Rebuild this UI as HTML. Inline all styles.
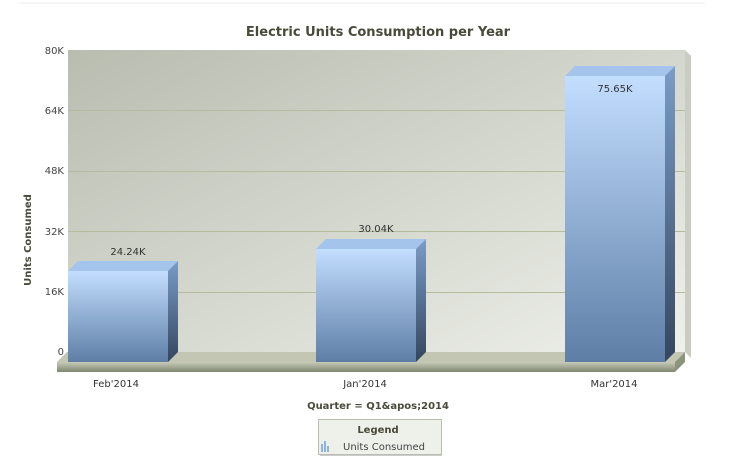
<!DOCTYPE html>
<html><head><style>
body{margin:0;background:#fff;}
svg text{font-family:"DejaVu Sans",Verdana,sans-serif;}
</style></head><body>
<svg width="741" height="469" xmlns="http://www.w3.org/2000/svg">
<defs>
<linearGradient id="wall" x1="0" y1="0" x2="1" y2="1">
<stop offset="0" stop-color="#b9bdb0"/><stop offset="1" stop-color="#eef0ea"/></linearGradient>
<linearGradient id="bar" x1="0" y1="0" x2="0" y2="1">
<stop offset="0" stop-color="#c3deff"/><stop offset="1" stop-color="#5e7ea6"/></linearGradient>
<linearGradient id="side" x1="0" y1="0" x2="0" y2="1">
<stop offset="0" stop-color="#7a9cc8"/><stop offset="1" stop-color="#34465e"/></linearGradient>
<linearGradient id="floor" x1="0" y1="0" x2="0" y2="1">
<stop offset="0" stop-color="#c7cbb8"/><stop offset="1" stop-color="#7f8770"/></linearGradient>
</defs>
<line x1="20" y1="3" x2="705" y2="3" stroke="#eee"/>
<text x="378" y="36" text-anchor="middle" font-size="13" font-weight="bold" fill="#4a4a3a">Electric Units Consumption per Year</text>
<rect x="68" y="50" width="617" height="302" fill="url(#wall)"/>
<polygon points="685,50 691,56 691,358 685,352" fill="#c9ccc0"/>
<g stroke="#b4bc9e" stroke-width="1">
<line x1="68" y1="110.5" x2="685" y2="110.5"/><line x1="68" y1="171.5" x2="685" y2="171.5"/>
<line x1="68" y1="231.5" x2="685" y2="231.5"/><line x1="68" y1="292.5" x2="685" y2="292.5"/>
</g>
<g font-size="10" fill="#444" text-anchor="end">
<text x="64" y="54">80K</text><text x="64" y="114">64K</text><text x="64" y="174">48K</text>
<text x="64" y="235">32K</text><text x="64" y="295">16K</text><text x="64" y="355">0</text>
</g>
<text transform="translate(31,240) rotate(-90)" text-anchor="middle" font-size="10" font-weight="bold" fill="#4a4a3a">Units Consumed</text>
<polygon points="57,362 67,352 685,352 675,362" fill="#c2c6b2"/>
<rect x="57" y="362" width="618" height="10" fill="url(#floor)"/>
<polygon points="675,362 685,352 685,362 675,372" fill="#8c947c"/>
<g>
<polygon points="68,271 78,261 178,261 168,271" fill="#a4c4ec"/>
<polygon points="168,271 178,261 178,352 168,362" fill="url(#side)"/>
<rect x="68" y="271" width="100" height="91" fill="url(#bar)"/>
<polygon points="316,249 326,239 426,239 416,249" fill="#a4c4ec"/>
<polygon points="416,249 426,239 426,352 416,362" fill="url(#side)"/>
<rect x="316" y="249" width="100" height="113" fill="url(#bar)"/>
<polygon points="565,76 575,66 675,66 665,76" fill="#a4c4ec"/>
<polygon points="665,76 675,66 675,352 665,362" fill="url(#side)"/>
<rect x="565" y="76" width="100" height="286" fill="url(#bar)"/>
</g>
<g font-size="10" fill="#333" text-anchor="middle">
<text x="128" y="255">24.24K</text><text x="376" y="232">30.04K</text><text x="615" y="92">75.65K</text>
<text x="116" y="387">Feb'2014</text><text x="365" y="387">Jan'2014</text><text x="614" y="387">Mar'2014</text>
</g>
<text x="378" y="409" text-anchor="middle" font-size="10" font-weight="bold" fill="#4a4a3a">Quarter = Q1&amp;apos;2014</text>
<rect x="318.5" y="419.5" width="123" height="35" fill="#eef0ea" stroke="#b9bdb0"/>
<line x1="320" y1="455.5" x2="442" y2="455.5" stroke="#ccc"/>
<text x="378" y="433" text-anchor="middle" font-size="10" font-weight="bold" fill="#4a4a3a">Legend</text>
<g fill="#8fb3e0"><rect x="321" y="444" width="2" height="8"/><rect x="324" y="441" width="2" height="11"/><rect x="327" y="446" width="2" height="6"/></g>
<text x="343" y="450" font-size="10" fill="#444">Units Consumed</text>
</svg>
</body></html>
